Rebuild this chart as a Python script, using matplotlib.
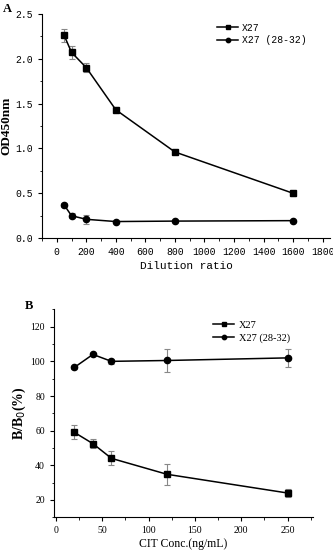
import matplotlib
matplotlib.use("Agg")
import matplotlib.pyplot as plt
from matplotlib.ticker import AutoMinorLocator

# panel A data
dilution = [50, 100, 200, 400, 800, 1600]
od_x27 = [2.26, 2.07, 1.90, 1.43, 0.96, 0.50]
od_x27_err = [0.07, 0.07, 0.05, 0.03, 0.02, 0.03]
od_mut = [0.37, 0.25, 0.21, 0.185, 0.19, 0.195]
od_mut_err = [0.02, 0.03, 0.05, 0.01, 0.01, 0.01]

# panel B data
cit_conc = [20, 40, 60, 120, 250]
bb0_x27 = [59.0, 52.5, 44.0, 34.8, 24.0]
bb0_x27_err = [4.0, 2.5, 4.0, 6.0, 2.5]
bb0_mut = [96.5, 104.0, 100.0, 100.5, 102.0]
bb0_mut_err = [1.0, 1.0, 1.5, 6.5, 5.0]

series_labels = ["X27", "X27 (28-32)"]

mono = "Liberation Mono"
serif = "Liberation Serif"


def style_axes(ax, tick_font, tick_size):
    for s in ["top", "right"]:
        ax.spines[s].set_visible(False)
    for s in ["left", "bottom"]:
        ax.spines[s].set_linewidth(0.8)
    ax.xaxis.set_minor_locator(AutoMinorLocator(2))
    ax.yaxis.set_minor_locator(AutoMinorLocator(2))
    ax.tick_params(which="major", direction="out", length=3, width=0.8,
                   labelsize=tick_size)
    ax.tick_params(which="minor", direction="out", length=1.8, width=0.6)
    for lab in ax.get_xticklabels() + ax.get_yticklabels():
        lab.set_fontfamily(tick_font)


def draw_series(ax, x, y, err, marker, label):
    ax.errorbar(x, y, yerr=err, fmt="none", ecolor="#888888", elinewidth=0.8,
                capsize=2, capthick=0.8, zorder=2)
    ax.plot(x, y, color="black", marker=marker, markersize=4.5, linewidth=1.1,
            label=label, zorder=3)


fig = plt.figure(figsize=(3.33, 5.5), dpi=100)

ax_a = fig.add_axes([0.126, 0.567, 0.865, 0.408])
draw_series(ax_a, dilution, od_x27, od_x27_err, "s", series_labels[0])
draw_series(ax_a, dilution, od_mut, od_mut_err, "o", series_labels[1])
ax_a.set_xlim(-100, 1850)
ax_a.set_ylim(0, 2.5)
ax_a.set_xticks(range(0, 1801, 200))
ax_a.set_yticks([0, 0.5, 1.0, 1.5, 2.0, 2.5])
ax_a.set_yticklabels(["0.0", "0.5", "1.0", "1.5", "2.0", "2.5"])
style_axes(ax_a, mono, 7)
ax_a.set_xlabel("Dilution ratio", fontfamily=mono, fontsize=8, labelpad=3)
ax_a.set_ylabel("OD450nm", fontfamily=serif, fontweight="bold", fontsize=9.5,
                labelpad=2)
ax_a.legend(loc="upper right", bbox_to_anchor=(0.95, 1.0), frameon=False,
            prop={"family": mono, "size": 7}, handlelength=2.2,
            handletextpad=0.4, labelspacing=0.3, markerscale=0.7)
fig.text(0.008, 0.995, "A", fontfamily=serif, fontweight="bold", fontsize=9,
         va="top")

ax_b = fig.add_axes([0.162, 0.0595, 0.777, 0.378])
draw_series(ax_b, cit_conc, bb0_x27, bb0_x27_err, "s", series_labels[0])
draw_series(ax_b, cit_conc, bb0_mut, bb0_mut_err, "o", series_labels[1])
ax_b.set_xlim(-2, 277)
ax_b.set_ylim(10, 130)
ax_b.set_xticks([0, 50, 100, 150, 200, 250])
ax_b.set_yticks([20, 40, 60, 80, 100, 120])
style_axes(ax_b, serif, 7)
ax_b.set_xlabel("CIT Conc.(ng/mL)", fontfamily=serif, fontsize=8.5, labelpad=2)
ax_b.set_ylabel("B/B$_0$(%)", fontfamily=serif, fontweight="bold", fontsize=10,
                labelpad=2)
ax_b.legend(loc="upper right", bbox_to_anchor=(0.95, 0.99), frameon=False,
            prop={"family": serif, "size": 7.5}, handlelength=2.0,
            handletextpad=0.5, labelspacing=0.3, markerscale=0.7)
fig.text(0.075, 0.455, "B", fontfamily=serif, fontweight="bold", fontsize=9,
         va="top")

fig.savefig("out.png", dpi=100)
